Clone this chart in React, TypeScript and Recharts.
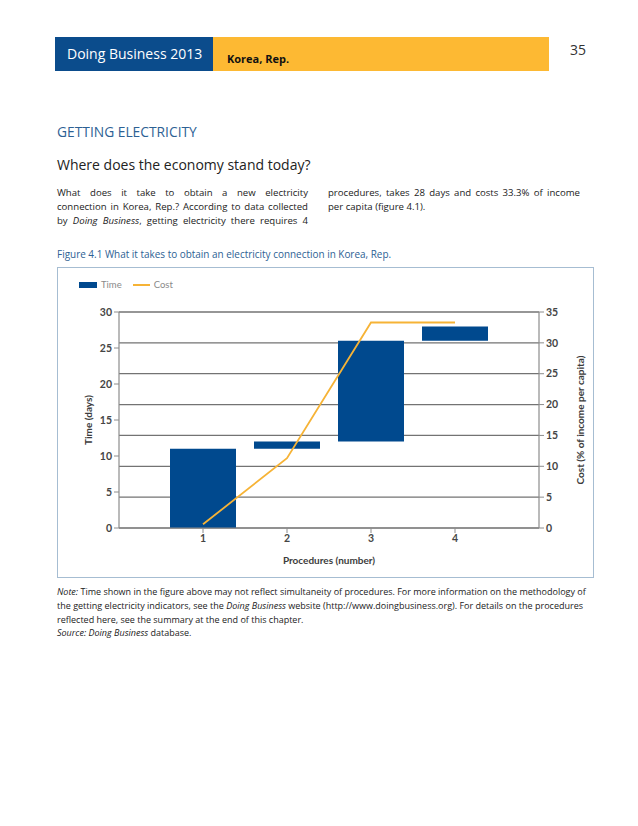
import React from 'react';
import { ComposedChart, Bar, Line, XAxis, YAxis, CartesianGrid, Legend } from 'recharts';

const procedures = ['1', '2', '3', '4'];
const timeStart = [0, 11, 12, 26];
const timeEnd = [11, 12, 26, 28];
const costCumulative = [0.6, 11.3, 33.3, 33.3];
const timeTicks = [0, 5, 10, 15, 20, 25, 30];
const costTicks = [0, 5, 10, 15, 20, 25, 30, 35];
const legendOrder = ['Time', 'Cost'];

const data = procedures.map((p, i) => ({
  proc: p,
  time: [timeStart[i], timeEnd[i]],
  cost: costCumulative[i],
}));

const BLUE = '#00498e';
const ORANGE = '#f6b336';
const AXIS = '#8c8c8c';
const GRID = '#737373';
const TICK = { fontSize: 10.5, fontWeight: 700, fill: '#454545', fontFamily: 'Lato, sans-serif' };
const LABEL_STYLE: React.CSSProperties = { fontSize: 10, fontWeight: 700, fill: '#3c3c3c', fontFamily: 'Lato, sans-serif' } as any;

const leftLabel = (props: any) => {
  const vb = props.viewBox || {};
  const cx = vb.x + 31;
  const cy = vb.y + vb.height / 2;
  return (
    <text x={cx} y={cy} transform={`rotate(-90 ${cx} ${cy})`} textAnchor="middle" dominantBaseline="central" style={LABEL_STYLE}>
      Time (days)
    </text>
  );
};

const rightLabel = (props: any) => {
  const vb = props.viewBox || {};
  const cx = vb.x + 41;
  const cy = vb.y + vb.height / 2;
  return (
    <text x={cx} y={cy} transform={`rotate(-90 ${cx} ${cy})`} textAnchor="middle" dominantBaseline="central" style={LABEL_STYLE}>
      Cost (% of income per capita)
    </text>
  );
};

const bottomLabel = (props: any) => {
  const vb = props.viewBox || {};
  const cx = vb.x + vb.width / 2;
  const cy = vb.y + 32;
  return (
    <text x={cx} y={cy} textAnchor="middle" dominantBaseline="central" style={LABEL_STYLE}>
      Procedures (number)
    </text>
  );
};

const renderLegend = (props: any) => {
  const payload = (props.payload || []).slice().sort(
    (a: any, b: any) => legendOrder.indexOf(a.value) - legendOrder.indexOf(b.value)
  );
  return (
    <div style={{ display: 'flex', alignItems: 'center', fontFamily: 'Lato, sans-serif', fontSize: 9.5, color: '#8a8a8a' }}>
      {payload.map((entry: any, i: number) => (
        <div key={i} style={{ display: 'flex', alignItems: 'center', marginRight: 11 }}>
          {entry.type === 'line' ? (
            <span style={{ display: 'inline-block', width: 17, height: 2, background: entry.color }} />
          ) : (
            <span style={{ display: 'inline-block', width: 18, height: 6, background: entry.color }} />
          )}
          <span style={{ marginLeft: 4 }}>{entry.value}</span>
        </div>
      ))}
    </div>
  );
};

const Chart = () => (
  <ComposedChart width={537} height={311} data={data} margin={{ top: 45, right: 0, bottom: 0, left: 0 }}>
    <CartesianGrid yAxisId="right" vertical={false} stroke={GRID} strokeWidth={1.3} />
    <XAxis
      dataKey="proc"
      height={50}
      padding={{ left: 42, right: 42 }}
      tickSize={5}
      tickMargin={2}
      tick={TICK}
      axisLine={{ stroke: AXIS, strokeWidth: 1.2 }}
      tickLine={{ stroke: AXIS }}
      label={bottomLabel}
    />
    <YAxis
      yAxisId="left"
      width={62}
      domain={[0, 30]}
      ticks={timeTicks}
      interval={0}
      tickSize={5}
      tickMargin={2}
      tick={TICK}
      axisLine={{ stroke: AXIS, strokeWidth: 1.2 }}
      tickLine={{ stroke: AXIS }}
      label={leftLabel}
    />
    <YAxis
      yAxisId="right"
      orientation="right"
      width={55}
      domain={[0, 35]}
      ticks={costTicks}
      interval={0}
      tickSize={5}
      tickMargin={2}
      tick={TICK}
      axisLine={{ stroke: AXIS, strokeWidth: 1.2 }}
      tickLine={{ stroke: AXIS }}
      label={rightLabel}
    />
    <Legend
      layout="vertical"
      align="center"
      verticalAlign="middle"
      wrapperStyle={{ left: 22, top: 12, width: 'auto' }}
      content={renderLegend}
    />
    <Bar yAxisId="left" dataKey="time" name="Time" fill={BLUE} barSize={66} isAnimationActive={false} legendType="rect" />
    <Line yAxisId="right" dataKey="cost" name="Cost" type="linear" stroke={ORANGE} strokeWidth={1.8} dot={false} activeDot={false} isAnimationActive={false} legendType="line" />
  </ComposedChart>
);

const TEXT = '#222';
const HEAD = '#2d6194';

const line = (top: number, text: React.ReactNode, opts: any = {}) => (
  <div
    style={{
      position: 'absolute',
      left: opts.left ?? 57,
      width: opts.width ?? 251,
      top,
      height: 14,
      lineHeight: '14px',
      fontSize: opts.fontSize ?? 9.6,
      color: opts.color ?? TEXT,
      whiteSpace: 'nowrap',
      textAlign: opts.justify ? 'justify' : 'left',
      textAlignLast: opts.justify ? 'justify' : 'auto',
    } as React.CSSProperties}
  >
    {text}
  </div>
);

export default function App() {
  return (
    <div style={{ position: 'absolute', left: 0, top: 0, width: 638, height: 826, background: '#fff', fontFamily: '"Open Sans", sans-serif' }}>
      {/* header */}
      <div style={{ position: 'absolute', left: 55, top: 37, width: 158, height: 34, background: '#0b4c8c', color: '#fff', fontSize: 14, lineHeight: '34px', paddingLeft: 12, boxSizing: 'border-box', whiteSpace: 'nowrap' }}>
        Doing Business 2013
      </div>
      <div style={{ position: 'absolute', left: 213, top: 37, width: 336, height: 34, background: '#fdb933' }} />
      <div style={{ position: 'absolute', left: 227, top: 51, height: 16, lineHeight: '16px', fontSize: 11, fontWeight: 700, color: '#111' }}>Korea, Rep.</div>
      <div style={{ position: 'absolute', left: 570, top: 40, height: 20, lineHeight: '20px', fontSize: 14, color: '#333' }}>35</div>

      {/* titles */}
      <div style={{ position: 'absolute', left: 57, top: 122, height: 20, lineHeight: '20px', fontSize: 13.8, color: HEAD, whiteSpace: 'nowrap' }}>GETTING ELECTRICITY</div>
      <div style={{ position: 'absolute', left: 57, top: 155, height: 20, lineHeight: '20px', fontSize: 14, color: '#222', whiteSpace: 'nowrap' }}>Where does the economy stand today?</div>

      {/* paragraph */}
      {line(186, 'What does it take to obtain a new electricity', { justify: true })}
      {line(200, 'connection in Korea, Rep.? According to data collected', { justify: true })}
      {line(214, <>by <i>Doing Business</i>, getting electricity there requires 4</>, { justify: true })}
      {line(186, 'procedures, takes 28 days and costs 33.3% of income', { left: 328, width: 252, justify: true })}
      {line(200, 'per capita (figure 4.1).', { left: 328, width: 252 })}

      {line(247, 'Figure 4.1 What it takes to obtain an electricity connection in Korea, Rep.', { color: HEAD, width: 400, fontSize: 9.95 })}

      {/* chart box */}
      <div style={{ position: 'absolute', left: 57, top: 267, width: 537, height: 311, border: '1px solid #a6bdd2', boxSizing: 'border-box' }} />
      <div style={{ position: 'absolute', left: 57, top: 267 }}>
        <Chart />
      </div>

      {/* notes */}
      {line(585, <><i>Note:</i> Time shown in the figure above may not reflect simultaneity of procedures. For more information on the methodology of</>, { width: 526, fontSize: 9, justify: true })}
      {line(599, <>the getting electricity indicators, see the <i>Doing Business</i> website (http://www.doingbusiness.org). For details on the procedures</>, { width: 526, fontSize: 9, justify: true })}
      {line(613, 'reflected here, see the summary at the end of this chapter.', { width: 526, fontSize: 9 })}
      {line(626, <><i>Source: Doing Business</i> database.</>, { width: 526, fontSize: 9 })}
    </div>
  );
}
